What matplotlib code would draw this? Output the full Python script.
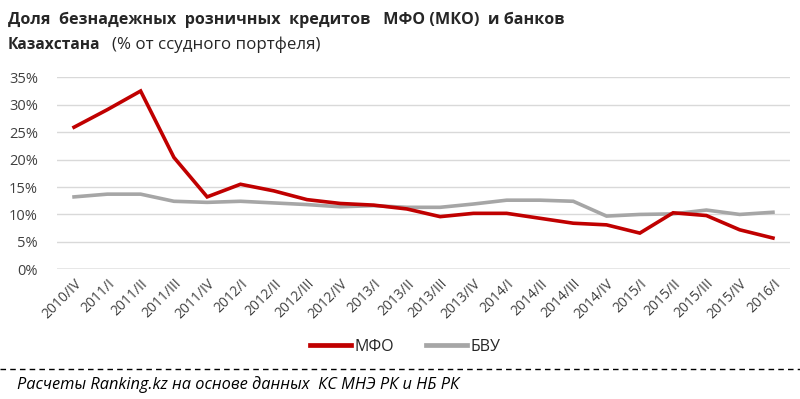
import matplotlib
matplotlib.use("Agg")
import matplotlib.pyplot as plt
from matplotlib.lines import Line2D

categories = ["2010/IV", "2011/I", "2011/II", "2011/III", "2011/IV",
              "2012/I", "2012/II", "2012/III", "2012/IV",
              "2013/I", "2013/II", "2013/III", "2013/IV",
              "2014/I", "2014/II", "2014/III", "2014/IV",
              "2015/I", "2015/II", "2015/III", "2015/IV", "2016/I"]
mfo = [25.9, 29.1, 32.5, 20.4, 13.2, 15.5, 14.3, 12.7, 12.0, 11.7, 11.0,
       9.6, 10.2, 10.2, 9.3, 8.4, 8.1, 6.6, 10.3, 9.8, 7.2, 5.7]
bvu = [13.2, 13.7, 13.7, 12.4, 12.2, 12.4, 12.1, 11.8, 11.4, 11.6, 11.3,
       11.3, 11.9, 12.6, 12.6, 12.4, 9.7, 10.0, 10.1, 10.8, 10.0, 10.4]
yticks = [0, 5, 10, 15, 20, 25, 30, 35]

plt.rcParams['font.family'] = ['Open Sans', 'DejaVu Sans']

W, H = 800, 399
fig = plt.figure(figsize=(W / 100, H / 100), dpi=100)
ax = fig.add_axes([57.4 / W, 1 - 269.3 / H, (789.6 - 57.4) / W, (269.3 - 77.3) / H])

x = list(range(len(categories)))
ax.plot(x, bvu, color="#A6A6A6", lw=2.6, solid_joinstyle="miter", zorder=3)
ax.plot(x, mfo, color="#C00000", lw=2.6, solid_joinstyle="miter", zorder=4)

ax.set_xlim(-0.5, len(categories) - 0.5)
ax.set_ylim(0, 35)
ax.set_yticks(yticks)
ax.set_yticklabels([f"{v}%" for v in yticks], fontsize=10.5, color="#404040")
ax.set_xticks(x)
ax.set_xticklabels(categories, rotation=45, ha="right", va="top",
                   rotation_mode="anchor", fontsize=10, color="#404040")
ax.tick_params(axis="both", length=0)
ax.tick_params(axis="y", pad=14)
ax.tick_params(axis="x", pad=5)
for s in ax.spines.values():
    s.set_visible(False)
ax.grid(axis="y", color="#D9D9D9", lw=1.0)
ax.axhline(0, color="#A6A6A6", lw=1.0, zorder=2)
ax.set_axisbelow(True)

# Title
fig.text(8 / W, 1 - 20 / H, "Доля  безнадежных  розничных  кредитов   МФО (МКО)  и банков",
         fontsize=11.6, fontweight="bold", color="#262626", va="center", ha="left")
fig.text(8 / W, 1 - 45 / H, "Казахстана", fontsize=11.2, fontweight="bold",
         color="#262626", va="center", ha="left")
fig.text(112 / W, 1 - 45 / H, "(% от ссудного портфеля)", fontsize=12.2,
         color="#262626", va="center", ha="left")

# Legend
handles = [Line2D([], [], color="#C00000", lw=3.4),
           Line2D([], [], color="#A6A6A6", lw=3.4)]
leg = fig.legend(handles, ["МФО", "БВУ"], loc="center", bbox_to_anchor=(405 / W, 1 - 347 / H),
                 ncol=2, frameon=False, fontsize=11.5, handlelength=2.6,
                 handletextpad=0.2, columnspacing=2.0)
for t in leg.get_texts():
    t.set_color("#262626")

# Dashed separator
fig.add_artist(Line2D([0, 1], [1 - 369 / H, 1 - 369 / H], color="#000000", lw=1.0,
                      linestyle=(0, (4, 3)), transform=fig.transFigure))

fig.text(17 / W, 1 - 385 / H, "Расчеты Ranking.kz на основе данных  КС МНЭ РК и НБ РК",
         fontsize=11.8, style="italic", color="#000000", va="center", ha="left")

fig.savefig("out.png", dpi=100, facecolor="white")
